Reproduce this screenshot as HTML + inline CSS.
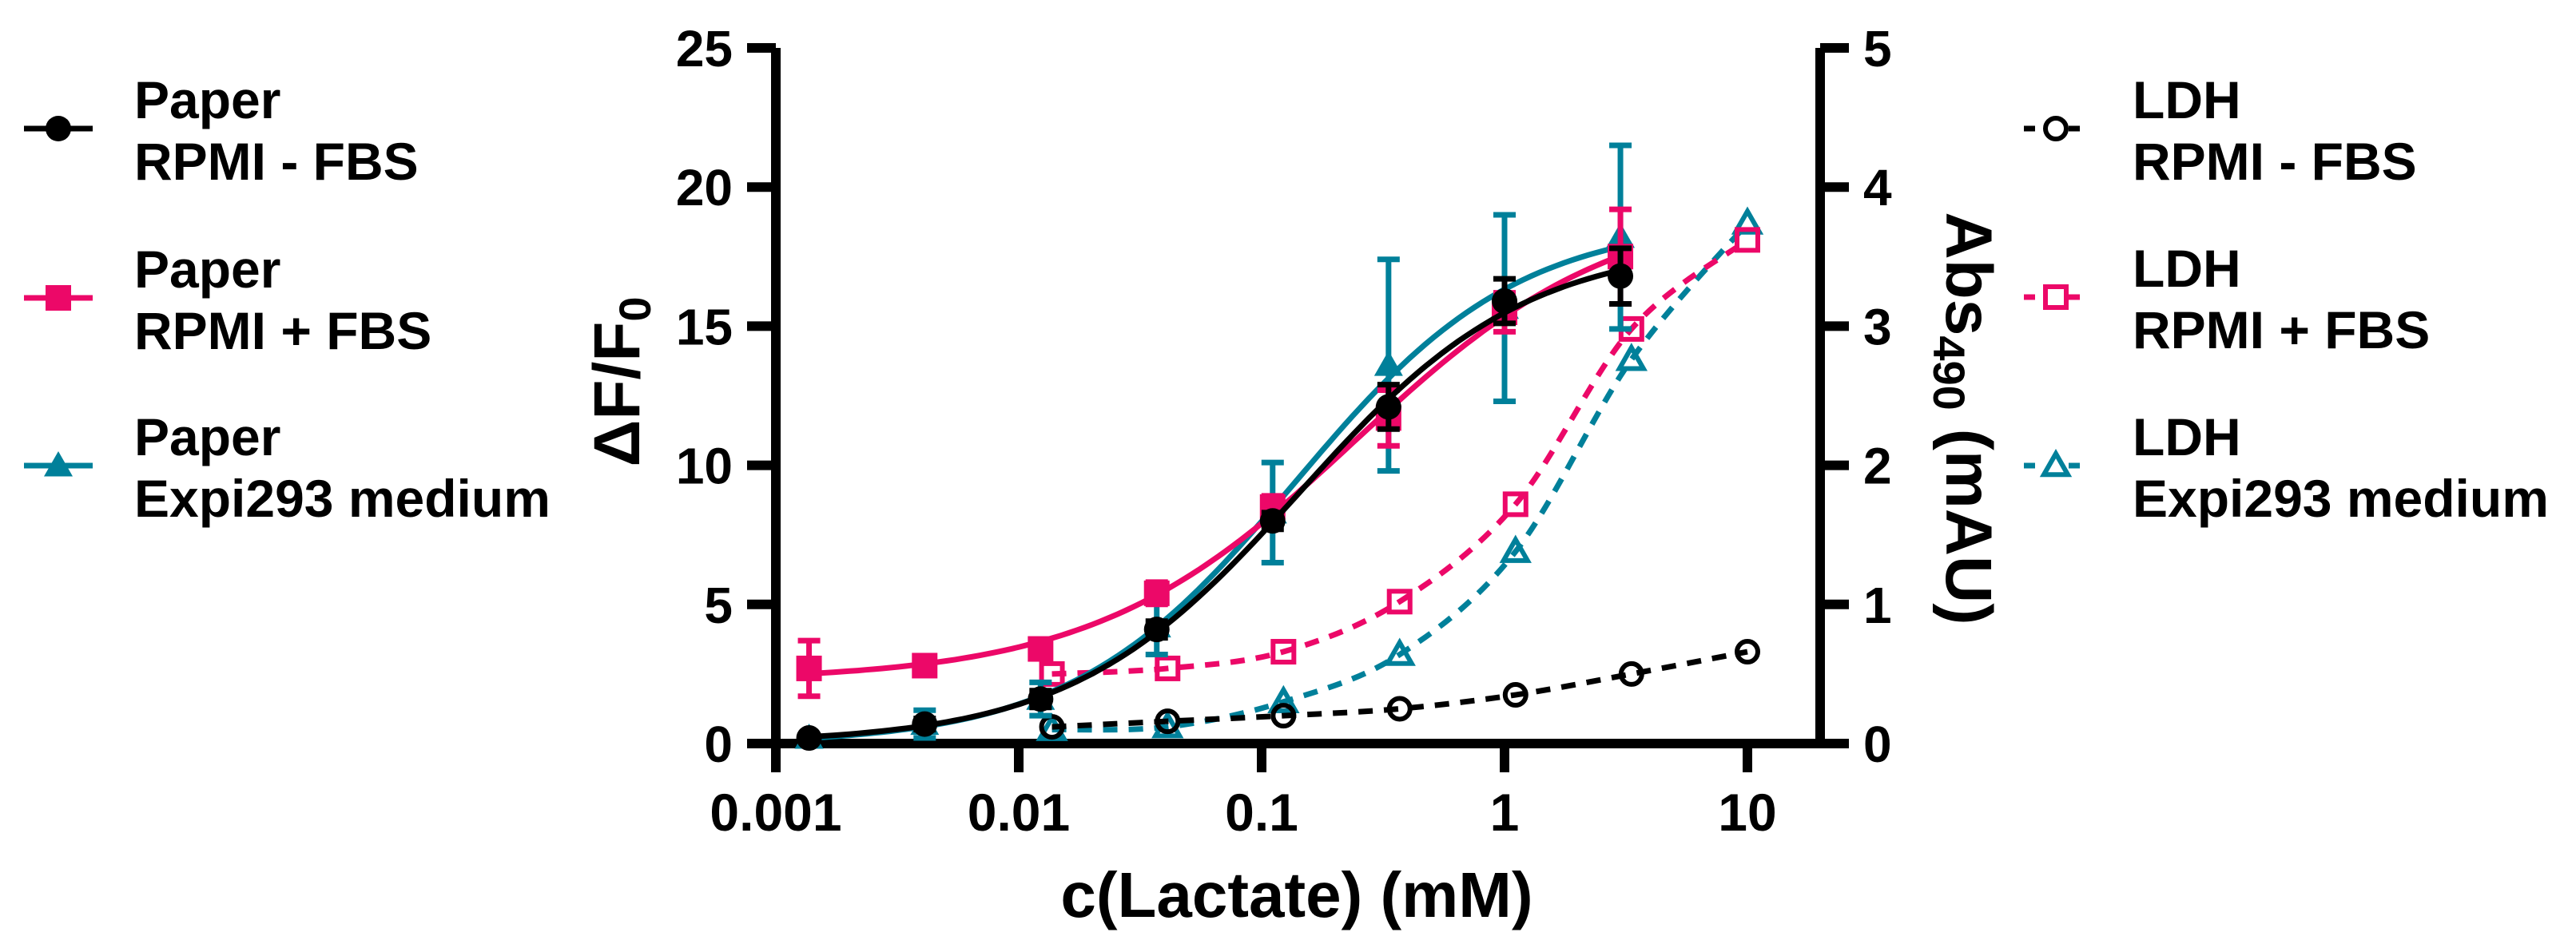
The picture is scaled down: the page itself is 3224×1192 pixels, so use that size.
<!DOCTYPE html>
<html><head><meta charset="utf-8"><style>
html,body{margin:0;padding:0;background:#fff;}
svg{display:block;font-family:"Liberation Sans",Arial,sans-serif;font-weight:bold;}
</style></head><body>
<svg id="chart" width="3224" height="1192" viewBox="0 0 3224 1192" xmlns="http://www.w3.org/2000/svg">
<g id="axes"></g>
<g id="series"></g>
<g id="legend"></g>
</svg>
<script>
// ---- data ----
const paperX = [0.00137, 0.0041, 0.0123, 0.037, 0.111, 0.333, 1, 3];
const paperMinusFBS = [0.2, 0.7, 1.6, 4.1, 8.0, 12.1, 15.9, 16.8];
const paperMinusFBSErr = [0.1, 0.2, 0.3, 0.3, 0.3, 0.8, 0.8, 1.0];
const paperPlusFBS = [2.7, 2.8, 3.4, 5.4, 8.5, 11.7, 15.5, 17.5];
const paperPlusFBSErr = [1.0, 0.1, 0.2, 0.4, 0.4, 1.0, 0.7, 1.7];
const paperExpi = [0.2, 0.7, 1.6, 4.2, 8.3, 13.6, 15.65, 18.2];
const paperExpiErr = [0.1, 0.5, 0.6, 1.0, 1.8, 3.8, 3.35, 3.3];
const ldhX = [0.0137, 0.041, 0.123, 0.37, 1.11, 3.33, 10];
const ldhMinusFBS = [0.12, 0.16, 0.2, 0.25, 0.35, 0.5, 0.66];
const ldhPlusFBS = [0.5, 0.54, 0.66, 1.02, 1.72, 2.98, 3.62];
const ldhExpi = [0.1, 0.12, 0.3, 0.64, 1.38, 2.76, 3.74];
const xTicks = [0.001, 0.01, 0.1, 1, 10];
const xTickLabels = ["0.001", "0.01", "0.1", "1", "10"];
const yLeftTicks = [0, 5, 10, 15, 20, 25];
const yRightTicks = [0, 1, 2, 3, 4, 5];

const NS = "http://www.w3.org/2000/svg";
const X0 = 971, DEC = 304, Y0 = 931, YTOP = 60;
const xs = v => X0 + (Math.log10(v) + 3) * DEC;
const yl = v => Y0 - v / 25 * (Y0 - YTOP);
const yr = v => Y0 - v / 5 * (Y0 - YTOP);
const PINK = "#ec0868", TEAL = "#00809a";

function el(tag, attrs, parent) {
  const e = document.createElementNS(NS, tag);
  for (const k in attrs) e.setAttribute(k, attrs[k]);
  parent.appendChild(e);
  return e;
}
const axes = document.getElementById('axes');
const series = document.getElementById('series');
const legend = document.getElementById('legend');

// axes
let a = el('path', {d:`M${X0} ${YTOP}V${Y0+36}M${X0-36} ${Y0}H2278`, stroke:'#000','stroke-width':12,fill:'none'}, axes);


a = el('path', {d:`M2278 ${YTOP}V${Y0+6}`, stroke:'#000','stroke-width':12,fill:'none'}, axes);


xTicks.forEach((v, i) => {
  const t = el('line', {x1:xs(v), x2:xs(v), y1:Y0, y2:Y0+36, stroke:'#000','stroke-width':12}, axes);
  
  
  const l = el('text', {x:xs(v), y:1040, 'font-size':66, 'text-anchor':'middle'}, axes);
  l.textContent = xTickLabels[i];
  
  
});
yLeftTicks.forEach(v => {
  const t = el('line', {x1:X0-36, x2:X0, y1:yl(v), y2:yl(v), stroke:'#000','stroke-width':12}, axes);
  
  
  const l = el('text', {x:917, y:yl(v)+23, 'font-size':64, 'text-anchor':'end'}, axes);
  l.textContent = String(v);
  
  
});
yRightTicks.forEach(v => {
  const t = el('line', {x1:2278, x2:2314, y1:yr(v), y2:yr(v), stroke:'#000','stroke-width':12}, axes);
  
  
  const l = el('text', {x:2332, y:yr(v)+23, 'font-size':64}, axes);
  l.textContent = String(v);
  
  
});
let tt = el('text', {x:1623, y:1148, 'font-size':80, 'text-anchor':'middle'}, axes);
tt.textContent = 'c(Lactate) (mM)';


tt = el('text', {transform:'translate(800 478) rotate(-90)', 'font-size':82, 'text-anchor':'middle'}, axes);
tt.innerHTML = 'ΔF/F<tspan font-size="56" dy="14">0</tspan>';


tt = el('text', {transform:'translate(2436 524) rotate(90)', 'font-size':82, 'text-anchor':'middle'}, axes);
tt.innerHTML = 'Abs<tspan font-size="56" dy="16">490</tspan><tspan dy="-16"> (mAU)</tspan>';



function smoothPath(pts) {
  let d = `M${pts[0][0]} ${pts[0][1]}`;
  for (let i = 0; i < pts.length - 1; i++) {
    const p0 = pts[Math.max(0, i-1)], p1 = pts[i], p2 = pts[i+1], p3 = pts[Math.min(pts.length-1, i+2)];
    const c1x = p1[0] + (p2[0]-p0[0])/6, c1y = p1[1] + (p2[1]-p0[1])/6;
    const c2x = p2[0] - (p3[0]-p1[0])/6, c2y = p2[1] - (p3[1]-p1[1])/6;
    d += ` C${c1x} ${c1y} ${c2x} ${c2y} ${p2[0]} ${p2[1]}`;
  }
  return d;
}
// 4-parameter logistic fit (Nelder-Mead) on data arrays
function fit4pl(xv, yv) {
  const lx = xv.map(v => Math.log10(v));
  const f = (p, l) => p[0] + (p[1]-p[0]) / (1 + Math.pow(10, (p[2]-l)*p[3]));
  const cost = p => { let s = 0; lx.forEach((l,i)=>{ const d = f(p,l)-yv[i]; s += d*d; }); return s; };
  let simplex = [[Math.min(...yv), Math.max(...yv), -1, 1]];
  const steps = [1, 2, 0.5, 0.3];
  for (let i = 0; i < 4; i++) { const p = simplex[0].slice(); p[i] += steps[i]; simplex.push(p); }
  for (let it = 0; it < 3000; it++) {
    simplex.sort((p,q)=>cost(p)-cost(q));
    const n = 4, c = [0,0,0,0];
    for (let i = 0; i < n; i++) for (let j = 0; j < 4; j++) c[j] += simplex[i][j]/n;
    const w = simplex[n];
    const r = c.map((v,j)=>v + (v - w[j]));
    if (cost(r) < cost(simplex[0])) {
      const e = c.map((v,j)=>v + 2*(v - w[j]));
      simplex[n] = cost(e) < cost(r) ? e : r;
    } else if (cost(r) < cost(simplex[n-1])) simplex[n] = r;
    else {
      const k = c.map((v,j)=>v + 0.5*(w[j]-v));
      if (cost(k) < cost(w)) simplex[n] = k;
      else for (let i = 1; i <= n; i++) simplex[i] = simplex[i].map((v,j)=>simplex[0][j] + 0.5*(v - simplex[0][j]));
    }
  }
  simplex.sort((p,q)=>cost(p)-cost(q));
  const p = simplex[0];
  return l => f(p, l);
}
function marker(shape, x, y, color, filled, parent, name) {
  let m;
  if (shape === 'circle') m = el('circle', {cx:x, cy:y, r: filled?16:13}, parent);
  else if (shape === 'square') m = el('rect', {x:x-(filled?16:13), y:y-(filled?16:13), width: filled?32:26, height: filled?32:26}, parent);
  else { const s = filled?18:15; m = el('path', {d:`M${x} ${y-s}L${x+s} ${y+s*0.75}L${x-s} ${y+s*0.75}Z`}, parent); }
  m.setAttribute('fill', filled ? color : 'none');
  m.setAttribute('stroke', color);
  m.setAttribute('stroke-width', filled ? 0 : 6);
  
  
}
function drawPaper(vals, errs, color, shape, name) {
  const g = el('g', {}, series);
  
  
  vals.forEach((v, i) => {
    const x = xs(paperX[i]);
    const e = el('path', {d:`M${x} ${yl(v-errs[i])}V${yl(v+errs[i])}M${x-14} ${yl(v-errs[i])}H${x+14}M${x-14} ${yl(v+errs[i])}H${x+14}`, stroke:color,'stroke-width':7,fill:'none'}, g);
    
    
  });
  const fn = fit4pl(paperX, vals);
  const l0 = Math.log10(paperX[0]), l1 = Math.log10(paperX[paperX.length-1]);
  let d = '';
  for (let k = 0; k <= 100; k++) {
    const l = l0 + (l1-l0)*k/100;
    d += (k ? 'L' : 'M') + xs(Math.pow(10,l)).toFixed(1) + ' ' + yl(fn(l)).toFixed(1);
  }
  const p = el('path', {d: d, stroke:color,'stroke-width':7,fill:'none'}, g);
  
  
  vals.forEach((v, i) => marker(shape, xs(paperX[i]), yl(v), color, true, g, 'point'));
}
function drawLdh(vals, color, shape, name) {
  const g = el('g', {}, series);
  
  
  const p = el('path', {d: smoothPath(vals.map((v,i)=>[xs(ldhX[i]), yr(v)])), stroke:color,'stroke-width':7,fill:'none','stroke-dasharray':'18 14'}, g);
  
  
  vals.forEach((v, i) => marker(shape, xs(ldhX[i]), yr(v), color, false, g, 'point'));
}
drawLdh(ldhExpi, TEAL, 'triangle', 'ldh-expi293-series');
drawLdh(ldhPlusFBS, PINK, 'square', 'ldh-rpmi-plus-fbs-series');
drawLdh(ldhMinusFBS, '#000', 'circle', 'ldh-rpmi-minus-fbs-series');
drawPaper(paperExpi, paperExpiErr, TEAL, 'triangle', 'paper-expi293-series');
drawPaper(paperPlusFBS, paperPlusFBSErr, PINK, 'square', 'paper-rpmi-plus-fbs-series');
drawPaper(paperMinusFBS, paperMinusFBSErr, '#000', 'circle', 'paper-rpmi-minus-fbs-series');

// legend
const legendItems = [
  {x1:30, x2:116, mx:73, tx:168, y:161, c:'#000', s:'circle', f:true, l1:'Paper', l2:'RPMI - FBS', n:'legend-paper-rpmi-minus-fbs'},
  {x1:30, x2:116, mx:73, tx:168, y:373, c:PINK, s:'square', f:true, l1:'Paper', l2:'RPMI + FBS', n:'legend-paper-rpmi-plus-fbs'},
  {x1:30, x2:116, mx:73, tx:168, y:583, c:TEAL, s:'triangle', f:true, l1:'Paper', l2:'Expi293 medium', n:'legend-paper-expi293'},
  {x1:2533, x2:2616, mx:2573, tx:2669, y:161, c:'#000', s:'circle', f:false, l1:'LDH', l2:'RPMI - FBS', n:'legend-ldh-rpmi-minus-fbs'},
  {x1:2533, x2:2616, mx:2573, tx:2669, y:372, c:PINK, s:'square', f:false, l1:'LDH', l2:'RPMI + FBS', n:'legend-ldh-rpmi-plus-fbs'},
  {x1:2533, x2:2616, mx:2573, tx:2669, y:583, c:TEAL, s:'triangle', f:false, l1:'LDH', l2:'Expi293 medium', n:'legend-ldh-expi293'}
];
legendItems.forEach(it => {
  const g = el('g', {}, legend);
  
  
  el('line', {x1:it.x1, x2:it.x2, y1:it.y, y2:it.y, stroke:it.c, 'stroke-width':7, 'stroke-dasharray': it.f ? 'none' : '14 42 14'}, g);
  marker(it.s, it.mx, it.y, it.c, it.f, g, 'legend-marker');
  const t1 = el('text', {x:it.tx, y:it.y-13, 'font-size':66}, g);
  t1.textContent = it.l1;
  
  
  const t2 = el('text', {x:it.tx, y:it.y+64, 'font-size':66}, g);
  t2.textContent = it.l2;
  
  
});
</script>
</body></html>
